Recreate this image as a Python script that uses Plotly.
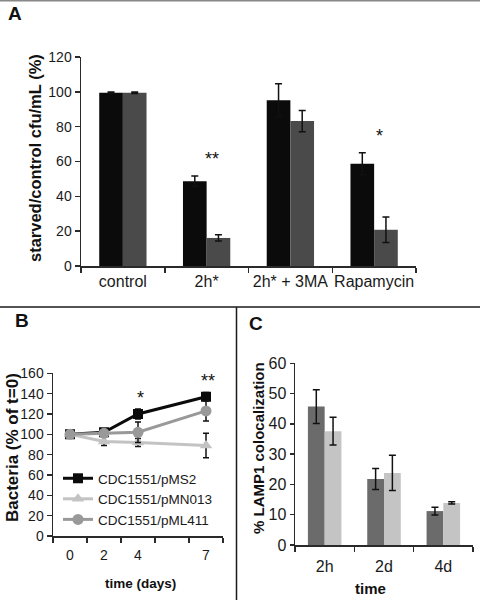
import plotly.graph_objects as go

# ---------------- data ----------------
A_CATS = ["control", "2h*", "2h* + 3MA", "Rapamycin"]
A_BLACK = [99.5, 48.7, 95.2, 58.7]
A_BLACK_ERR = [0.4, 3.0, 9.5, 6.3]
A_GRAY = [99.5, 16.1, 83.2, 20.8]
A_GRAY_ERR = [0.4, 1.8, 6.1, 7.3]
A_STARS = ["", "**", "", "*"]

B_TICKS = ["0", "2", "4", " ", "7"]
B_DAYS = ["0", "2", "4", "7"]
B_PMS2 = [100, 102, 120, 137]
B_PMS2_ERR = [0, 3, 5, 4]
B_PMN013 = [100, 93, 92, 89]
B_PMN013_ERR = [0, 4, 4, 12]
B_PML411 = [100, 101, 102, 123]
B_PML411_ERR = [0, 3, 10, 10]
B_STARS = ["", "", "*", "**"]

C_CATS = ["2h", "2d", "4d"]
C_DARK = [45.7, 21.8, 11.2]
C_DARK_ERR = [5.6, 3.5, 1.3]
C_LIGHT = [37.6, 23.8, 13.9]
C_LIGHT_ERR = [4.6, 5.8, 0.4]

FONT = "Liberation Sans, Arial, sans-serif"
W, H = 480, 600
AX = "#2a2a2a"


def px_x(x):
    return x / W


def px_y(y):
    return 1 - y / H


def err(arr, width=3.5, thick=1.5):
    return dict(type="data", array=arr, visible=True, color="#111111", thickness=thick, width=width)


fig = go.Figure()

# ---------------- Panel A ----------------
fig.add_trace(go.Bar(x=A_CATS, y=A_BLACK, error_y=err(A_BLACK_ERR), marker_color="#0b0b0b",
                     marker_line_width=0, xaxis="x", yaxis="y", showlegend=False))
fig.add_trace(go.Bar(x=A_CATS, y=A_GRAY, error_y=err(A_GRAY_ERR), marker_color="#4a4a4a",
                     marker_line_width=0, xaxis="x", yaxis="y", showlegend=False))

# ---------------- Panel B ----------------
b_series = [
    ("CDC1551/pMS2", B_PMS2, B_PMS2_ERR, "#0b0b0b", "square", 10),
    ("CDC1551/pMN013", B_PMN013, B_PMN013_ERR, "#c3c3c3", "triangle-up", 11),
    ("CDC1551/pML411", B_PML411, B_PML411_ERR, "#999999", "circle", 11),
]
for name, vals, errs, col, sym, size in b_series:
    fig.add_trace(go.Scatter(x=B_DAYS, y=vals, name=name, mode="lines+markers",
                             line=dict(color=col, width=3),
                             marker=dict(symbol=sym, size=size, color=col),
                             error_y=err(errs, width=3, thick=1.5),
                             xaxis="x2", yaxis="y2"))

# ---------------- Panel C ----------------
fig.add_trace(go.Bar(x=C_CATS, y=C_DARK, error_y=err(C_DARK_ERR), marker_color="#6b6b6b",
                     marker_line_width=0, xaxis="x3", yaxis="y3", showlegend=False))
fig.add_trace(go.Bar(x=C_CATS, y=C_LIGHT, error_y=err(C_LIGHT_ERR), marker_color="#c4c4c4",
                     marker_line_width=0, xaxis="x3", yaxis="y3", showlegend=False))

common_x = dict(type="category", tickson="boundaries", ticks="outside", ticklen=5, tickwidth=1.5,
                tickcolor=AX, showline=True, linecolor=AX, linewidth=1.5, showgrid=False,
                zeroline=False, fixedrange=True, automargin=False, tickangle=0)
common_y = dict(ticks="outside", ticklen=5, tickwidth=1.5, tickcolor=AX, showline=True,
                linecolor=AX, linewidth=1.5, showgrid=False, zeroline=False, fixedrange=True,
                automargin=False)

annotations = []
# stars A
for cat, s, v1, e1, v2, e2 in zip(A_CATS, A_STARS, A_BLACK, A_BLACK_ERR, A_GRAY, A_GRAY_ERR):
    if s:
        annotations.append(dict(x=A_CATS.index(cat), y=max(v1 + e1, v2 + e2) + 12, xref="x", yref="y",
                                text=s, showarrow=False, xshift=5, yshift=-4,
                                font=dict(size=18, color="#111", family=FONT)))
# stars B
for d, s, v, e in zip(B_DAYS, B_STARS, B_PMS2, B_PMS2_ERR):
    if s:
        annotations.append(dict(x=B_TICKS.index(d), y=v + e + 15, xref="x2", yref="y2", text=s,
                                showarrow=False, xshift=2, yshift=-4,
                                font=dict(size=18, color="#111", family=FONT)))

def lab(text, x, y, size, angle=0):
    annotations.append(dict(x=px_x(x), y=px_y(y), xref="paper", yref="paper", text=text,
                            showarrow=False, textangle=angle, xanchor="center", yanchor="middle",
                            font=dict(size=size, color="#111", family=FONT)))

lab("<b>A</b>", 15, 14, 19)
lab("<b>B</b>", 21.5, 320, 19)
lab("<b>C</b>", 256, 323.5, 19)
lab("<b>starved/control cfu/mL (%)</b>", 35, 158, 16.5, -90)
lab("<b>Bacteria (% of t=0)</b>", 12.5, 447.5, 17, -90)
lab("<b>time (days)</b>", 140, 583, 13.5)
lab("<b>% LAMP1 colocalization</b>", 258, 448, 15, -90)
lab("<b>time</b>", 370, 588, 15)

shapes = [
    dict(type="line", xref="paper", yref="paper", x0=0, x1=1, y0=px_y(0.5), y1=px_y(0.5),
         line=dict(color="#888888", width=2)),
    dict(type="line", xref="paper", yref="paper", x0=0, x1=1, y0=px_y(307), y1=px_y(307),
         line=dict(color="#1a1a1a", width=1.5)),
    dict(type="line", xref="paper", yref="paper", x0=px_x(236.5), x1=px_x(236.5), y0=0, y1=px_y(307),
         line=dict(color="#1a1a1a", width=1.5)),
]

fig.update_layout(
    template="none",
    width=W, height=H, margin=dict(l=0, r=0, t=0, b=0, pad=0, autoexpand=False),
    paper_bgcolor="white", plot_bgcolor="white",
    font=dict(family=FONT, color="#1a1a1a"),
    barmode="group", bargap=0.435, bargroupgap=0,
    xaxis=dict(common_x, domain=[px_x(81), px_x(416)], anchor="y", tickfont=dict(size=16)),
    yaxis=dict(common_y, domain=[px_y(266), px_y(57)], anchor="x", range=[0, 120], dtick=20,
               tickfont=dict(size=14)),
    xaxis2=dict(common_x, domain=[px_x(53), px_x(223)], anchor="y2", categoryorder="array",
                categoryarray=B_TICKS, range=[-0.5, 4.5], tickfont=dict(size=14), ticklabelstandoff=6),
    yaxis2=dict(common_y, domain=[px_y(536), px_y(373.3)], anchor="x2", range=[0, 160], dtick=20,
                tickfont=dict(size=14)),
    xaxis3=dict(common_x, domain=[px_x(295), px_x(473)], anchor="y3", tickfont=dict(size=16),
                ticklabelstandoff=6),
    yaxis3=dict(common_y, domain=[px_y(545), px_y(363.3)], anchor="x3", range=[0, 60], dtick=10,
                tickfont=dict(size=16), ticklen=4),
    showlegend=True,
    legend=dict(x=px_x(58), y=px_y(463), xanchor="left", yanchor="top", bgcolor="rgba(0,0,0,0)",
                font=dict(size=13.5, family=FONT, color="#1a1a1a"), itemwidth=30,
                tracegroupgap=0, borderwidth=0),
    annotations=annotations, shapes=shapes,
)

fig.write_html("out.html", config=dict(displayModeBar=False, staticPlot=True),
               post_script="document.body.style.margin='0px';document.body.style.overflow='hidden';")
